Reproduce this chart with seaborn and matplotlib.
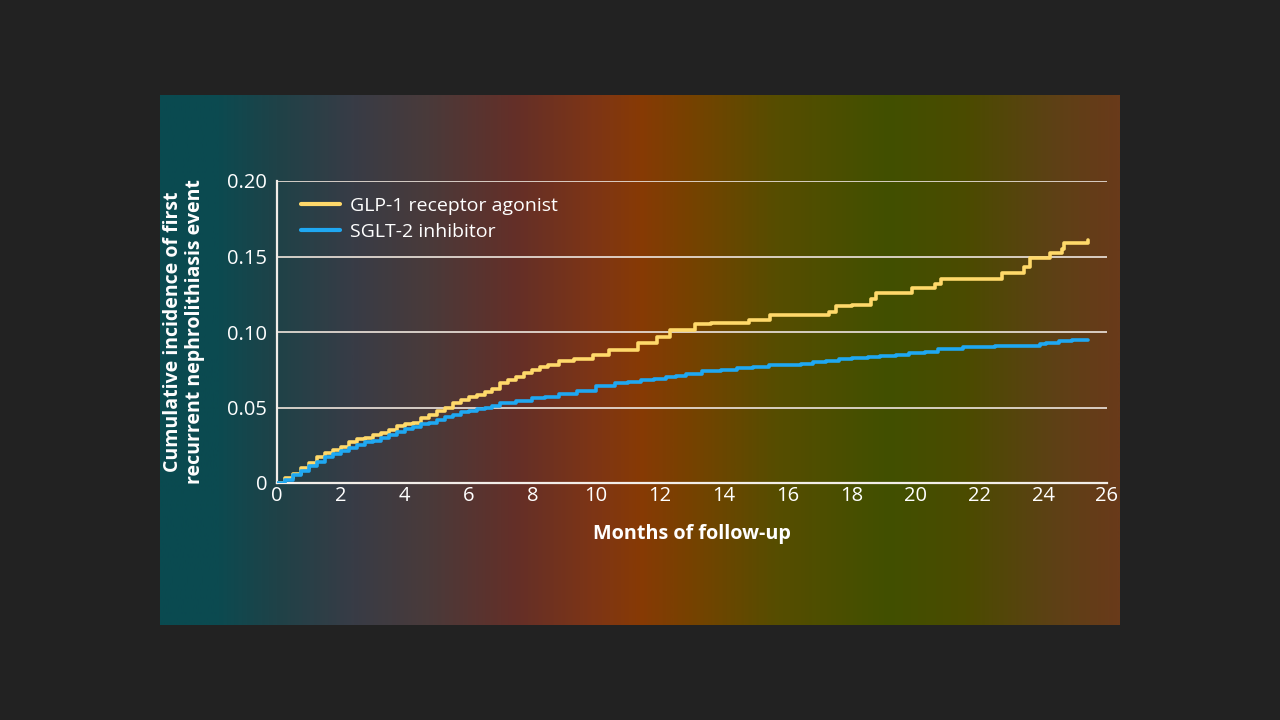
import numpy as np
import pandas as pd
import matplotlib
matplotlib.use("Agg")
import matplotlib.pyplot as plt
import seaborn as sns
from matplotlib.colors import LinearSegmentedColormap

# ---------------- data ----------------
glp_months = [0, 0.25, 0.5, 0.75, 1.0, 1.25, 1.5, 1.75, 2.0, 2.25, 2.5, 2.75, 3.0, 3.25,
              3.5, 3.75, 4.0, 4.25, 4.5, 4.75, 5.0, 5.25, 5.5, 5.75, 6.0, 6.25, 6.5, 6.75,
              7.0, 7.25, 7.5, 7.75, 8.0, 8.25, 8.5, 8.84, 9.3, 9.9, 10.4, 11.3, 11.9,
              12.3, 13.1, 13.6, 14.8, 15.45, 17.3, 17.5, 18.0, 18.6, 18.75, 19.9, 20.6,
              20.8, 22.7, 23.4, 23.6, 24.2, 24.6, 24.65, 25.4]
glp_inc = [0, 0.003, 0.006, 0.010, 0.013, 0.017, 0.020, 0.022, 0.024, 0.027, 0.029,
           0.030, 0.032, 0.033, 0.035, 0.038, 0.039, 0.040, 0.043, 0.045, 0.048, 0.050,
           0.053, 0.055, 0.057, 0.058, 0.060, 0.062, 0.066, 0.068, 0.070, 0.073, 0.075,
           0.077, 0.078, 0.081, 0.082, 0.085, 0.088, 0.093, 0.097, 0.101, 0.105, 0.106,
           0.108, 0.111, 0.113, 0.117, 0.118, 0.122, 0.126, 0.129, 0.132, 0.135, 0.139,
           0.143, 0.149, 0.152, 0.155, 0.159, 0.161]

sglt_months = [0, 0.25, 0.5, 0.75, 1.0, 1.25, 1.5, 1.75, 2.0, 2.25, 2.5, 2.75, 3.0, 3.25,
               3.5, 3.75, 4.0, 4.25, 4.5, 4.75, 5.0, 5.25, 5.5, 5.75, 6.0, 6.25, 6.5,
               6.75, 7.0, 7.5, 8.0, 8.4, 8.84, 9.4, 10.0, 10.6, 11.0, 11.4, 11.8, 12.2,
               12.5, 12.8, 13.3, 13.9, 14.4, 14.9, 15.4, 16.4, 16.8, 17.2, 17.6, 18.0,
               18.5, 18.9, 19.4, 19.8, 20.3, 20.7, 21.5, 22.5, 23.2, 23.9, 24.1, 24.5,
               24.9, 25.4]
sglt_inc = [0, 0.002, 0.005, 0.008, 0.011, 0.014, 0.017, 0.019, 0.021, 0.023, 0.025,
            0.027, 0.028, 0.030, 0.032, 0.034, 0.036, 0.037, 0.039, 0.040, 0.042, 0.044,
            0.045, 0.047, 0.048, 0.049, 0.050, 0.051, 0.053, 0.054, 0.056, 0.057, 0.059,
            0.061, 0.064, 0.066, 0.067, 0.068, 0.069, 0.070, 0.071, 0.072, 0.074, 0.075,
            0.076, 0.077, 0.078, 0.079, 0.080, 0.081, 0.082, 0.083, 0.0835, 0.084, 0.085,
            0.086, 0.087, 0.089, 0.090, 0.0905, 0.091, 0.092, 0.093, 0.094, 0.0945, 0.095]

series_names = ["GLP-1 receptor agonist", "SGLT-2 inhibitor"]
x_ticks = list(range(0, 27, 2))
y_ticks = [0, 0.05, 0.10, 0.15, 0.20]
y_tick_labels = ["0", "0.05", "0.10", "0.15", "0.20"]
x_label = "Months of follow-up"
y_label = "Cumulative incidence of first\nrecurrent nephrolithiasis event"

df = pd.concat([
    pd.DataFrame({"month": glp_months, "inc": glp_inc, "group": series_names[0]}),
    pd.DataFrame({"month": sglt_months, "inc": sglt_inc, "group": series_names[1]}),
], ignore_index=True)

# ---------------- style ----------------
sns.set_theme(style="white")
plt.rcParams["font.family"] = ["Open Sans", "DejaVu Sans"]

W, H = 1280, 720
fig = plt.figure(figsize=(12.8, 7.2), dpi=100, facecolor="#222222")

# gradient panel
bg = fig.add_axes([160 / W, 1 - 625 / H, 960 / W, 530 / H])
stops = [(0.0, "#0a4a50"), (0.06, "#0c4a50"), (0.12, "#1f4248"), (0.2, "#383c46"),
         (0.28, "#4a3a3a"), (0.37, "#642f28"), (0.45, "#7d3516"), (0.5, "#873a05"),
         (0.56, "#744300"), (0.64, "#574d00"), (0.76, "#415000"), (0.84, "#4b4b00"),
         (0.93, "#5d4115"), (1.0, "#693a1a")]
cmap = LinearSegmentedColormap.from_list("panel", stops)
grad = np.linspace(0, 1, 512).reshape(1, -1)
bg.imshow(grad, aspect="auto", cmap=cmap, extent=[0, 1, 0, 1])
bg.set_axis_off()

# main axes
ax = fig.add_axes([277 / W, 1 - 483 / H, (1107 - 277) / W, (483 - 181) / H])
ax.set_facecolor("none")

sns.lineplot(data=df, x="month", y="inc", hue="group", hue_order=series_names,
             palette=["#ffd96a", "#1fa8f2"], drawstyle="steps-post", estimator=None,
             linewidth=2.6, ax=ax, zorder=3)

ax.set_xlim(0, 26)
ax.set_ylim(0, 0.20)
ax.set_xticks(x_ticks)
ax.set_xticklabels([str(t) for t in x_ticks])
ax.set_yticks(y_ticks)
ax.set_yticklabels(y_tick_labels)

for yv in y_ticks[1:]:
    ax.axhline(yv, color="#e6ddd5", lw=1.4, zorder=1, alpha=0.9)

for s in ["top", "right"]:
    ax.spines[s].set_visible(False)
for s in ["left", "bottom"]:
    ax.spines[s].set_color("#f2ede8")
    ax.spines[s].set_linewidth(1.6)

ax.tick_params(axis="x", direction="in", length=7, width=1.5, colors="#f2ede8",
               labelsize=14.5, pad=2, labelcolor="white")
ax.tick_params(axis="y", length=0, labelsize=14.5, pad=7, labelcolor="white")

ax.set_xlabel("")
ax.set_ylabel("")
fig.text(692 / W, 1 - 534 / H, x_label, ha="center", va="center", color="white",
         fontsize=14.2, fontweight="bold")
fig.text(184 / W, 1 - 332 / H, y_label, ha="center", va="center", rotation=90,
         color="white", fontsize=14, fontweight="bold", linespacing=1.1)

leg = ax.legend(loc="upper left", bbox_to_anchor=(0.008, 1.005), frameon=False,
                fontsize=14, handlelength=2.0, handletextpad=0.5,
                borderaxespad=0.6, borderpad=0.3, labelspacing=0.4)
for t in leg.get_texts():
    t.set_color("white")
for l in leg.get_lines():
    l.set_linewidth(3)

fig.savefig("out.png", dpi=100, facecolor=fig.get_facecolor())
